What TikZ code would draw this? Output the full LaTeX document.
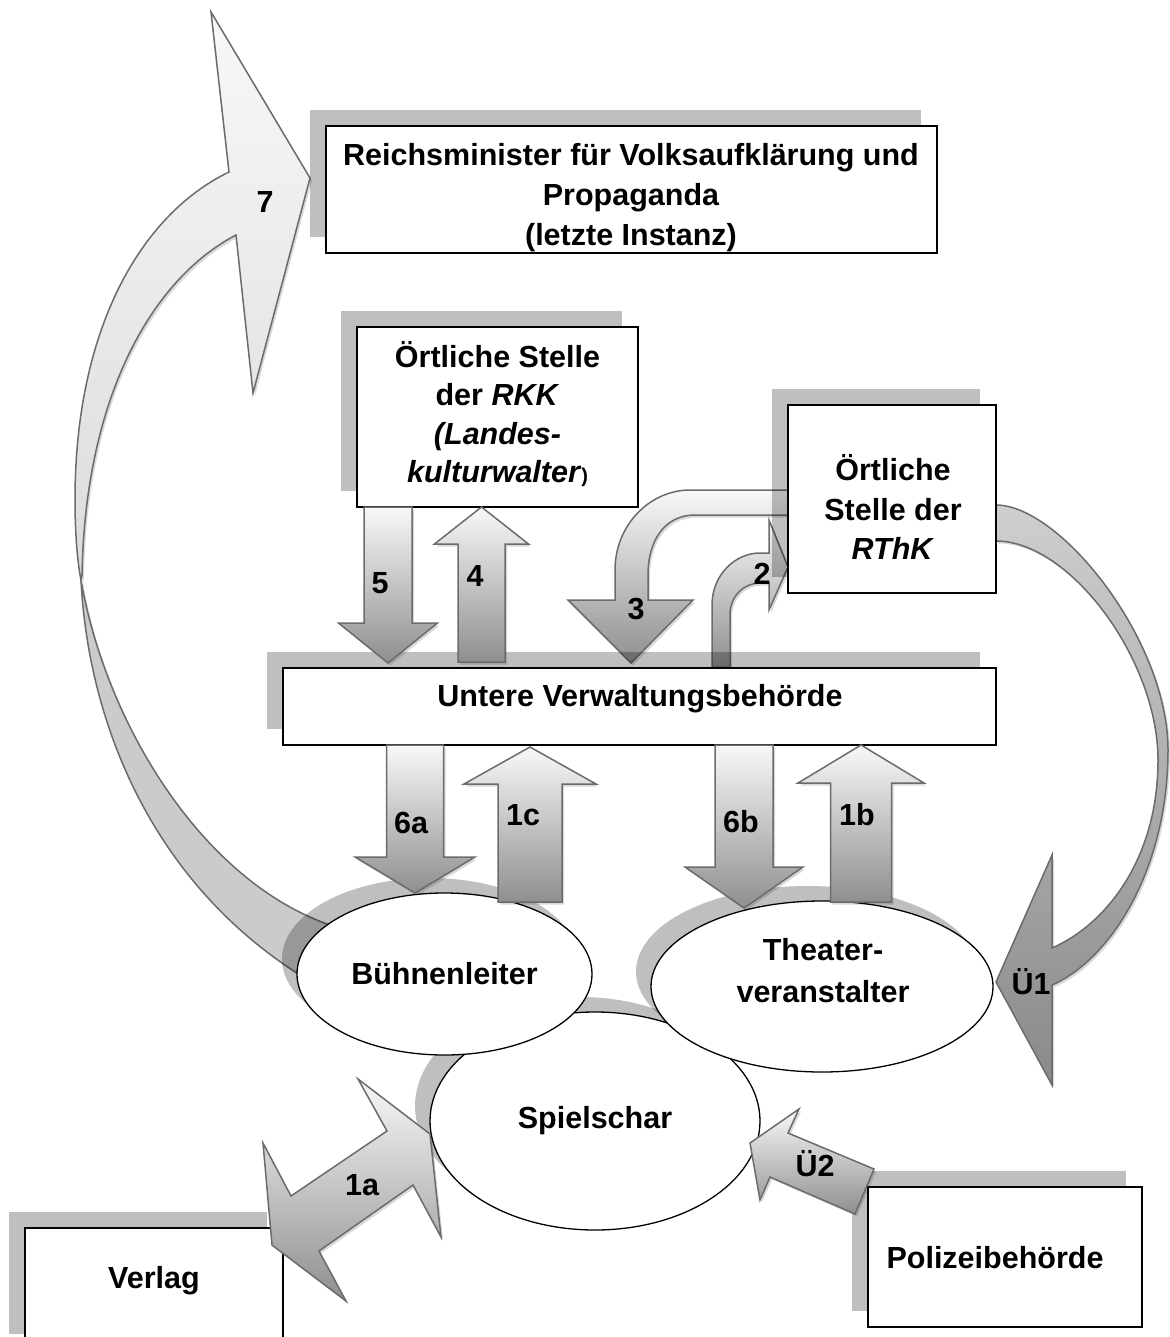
\documentclass[tikz,border=0pt]{standalone}
\usepackage{fontspec}
\setmainfont{Liberation Sans}
\usetikzlibrary{shadows,shapes.geometric}
\definecolor{edgec}{HTML}{6B6B6B}
\definecolor{backc}{HTML}{CBCBCB}
\definecolor{lightc}{HTML}{F8F8F8}
\definecolor{darkc}{HTML}{8F8F8F}
\tikzset{
  lbl/.style={font=\fontsize{30.5}{39.5}\selectfont\bfseries, inner sep=0pt, align=center},
  box/.style={rectangle, draw=black, line width=1.4pt, fill=white, inner sep=0pt,
    general shadow={shadow xshift=-16pt, shadow yshift=16pt, fill=black, opacity=.25}},
  oval/.style={ellipse, draw=black, line width=1.3pt, fill=white, inner sep=0pt,
    general shadow={shadow xshift=-15pt, shadow yshift=15pt, fill=black, opacity=.25}},
  ashadow/.style={general shadow={shadow xshift=2pt, shadow yshift=-2.5pt, fill=black, opacity=.15}},
  aline/.style={draw=edgec, line width=1.5pt, line join=miter},
  blk/.style={aline, top color=lightc, bottom color=darkc, ashadow},
}
\newcommand\blkarrow[6]{\path[blk] ({#1-#5},#2) -- ({#1+#5},#2) -- ({#1+#5},#3) -- ({#1+#6},#3) -- (#1,#4) -- ({#1-#6},#3) -- ({#1-#5},#3) -- cycle;}
\begin{document}
\begin{tikzpicture}[x=1pt,y=-1pt]
\useasboundingbox (0,0) rectangle (1169,1337);

% ---- arrow 7 (curved, left side)
\path[aline, fill=backc, ashadow] (81,580) .. controls (88,720) and (150,880) .. (300,975)
  -- (330,925) .. controls (200,880) and (105,720) .. (81,580) -- cycle;
\path[aline, top color=lightc, bottom color=white!86!black, ashadow]
  (81,580) .. controls (77,560) and (75,530) .. (75,500)
  .. controls (75,330) and (140,215) .. (229,172) -- (211,12) -- (310,178) -- (253,393)
  -- (236,235) .. controls (150,280) and (85,400) .. (82,575) -- cycle;

% ---- arrow Ü1 (curved, right side)
\path[aline, top color=white!81!black, middle color=white!77!black, bottom color=white!54!black, ashadow]
  (996,505) .. controls (1060,505) and (1168,640) .. (1168,750)
  .. controls (1168,870) and (1110,960) .. (1052,985) -- (1052,1085) -- (996,982) -- (1052,855)
  -- (1052,948) .. controls (1105,925) and (1158,860) .. (1158,760)
  .. controls (1158,660) and (1070,541) .. (996,541) -- cycle;

% ---- arrow 3 and arrow 2 (bent)
\path[blk] (788,490) -- (690,490) .. controls (650,490) and (615,525) .. (615,570) -- (615,600)
  -- (568,600) -- (631,663) -- (693,600) -- (648,600) -- (648,575)
  .. controls (648,540) and (665,515) .. (695,515) -- (788,515) -- cycle;
\path[blk] (712,667) -- (712,605) .. controls (712,575) and (735,553) .. (760,553) -- (769,553)
  -- (769,520) -- (788,567) -- (769,610) -- (769,583) -- (760,583)
  .. controls (745,583) and (730,595) .. (730,615) -- (730,667) -- cycle;

% ---- boxes
\node[box, minimum width=611pt, minimum height=127pt] (rm) at (631.5,189.5) {};
\node[box, minimum width=281pt, minimum height=180pt] (rkk) at (497.5,417) {};
\node[box, minimum width=208pt, minimum height=188pt] (rthk) at (892,499) {};
\node[box, minimum width=713pt, minimum height=77pt] (uv) at (639.5,706.5) {};
\node[box, minimum width=274pt, minimum height=140pt] (pol) at (1005,1257) {};
\node[box, minimum width=258pt, minimum height=122pt] (verlag) at (154,1289) {};

% ---- ellipses
\node[oval, lbl, minimum width=330pt, minimum height=218pt] (spiel) at (595,1121) {Spielschar};
\node[oval, lbl, minimum width=295pt, minimum height=162pt] (buehne) at (444.5,974) {Bühnenleiter};
\node[oval, minimum width=342pt, minimum height=171pt] (theater) at (822,986.5) {};

% ---- straight block arrows
\blkarrow{388}{507}{623}{663}{24}{49.5}
\blkarrow{481.5}{662}{544}{507}{23.5}{47}
\blkarrow{415}{745}{857}{893}{28.5}{60}
\blkarrow{530}{902}{784}{747}{32}{66}
\blkarrow{744}{745}{867}{908}{29}{59}
\blkarrow{861}{902}{783}{745}{30.5}{63}

% ---- arrow 1a (double) and Ü2
\path[blk] (430,1134) -- (441,1237) -- (413,1185) -- (319,1251) -- (346,1301) -- (272,1245)
  -- (263,1143) -- (291,1196) -- (387,1131) -- (358,1079) -- cycle;
\path[blk] (750,1143) -- (799,1109) -- (788,1133) -- (874,1169) -- (855,1214) -- (770,1177)
  -- (760,1200) -- cycle;

% ---- box texts
\node[lbl, font=\fontsize{30.5}{40}\selectfont\bfseries] (rmtext) at (631,198)
  {Reichsminister für Volksaufklärung und\\Propaganda\\(letzte Instanz)};
\node[lbl, font=\fontsize{30.5}{38.5}\selectfont\bfseries] (rkktext) at (497.5,414)
  {Örtliche Stelle\\der \textit{RKK}\\\textit{(Landes-}\\\textit{kulturwalter}{\fontsize{20}{20}\selectfont)}};
\node[lbl] (rthktext) at (893,507) {Örtliche\\Stelle der\\\textit{RThK}};
\node[lbl] (uvtext) at (640,699) {Untere Verwaltungsbehörde};
\node[lbl, font=\fontsize{30.5}{42}\selectfont\bfseries] (theatertext) at (823,971) {Theater-\\veranstalter};
\node[lbl] (poltext) at (995,1258) {Polizeibehörde};
\node[lbl] (verlagtext) at (154,1281) {Verlag};

% ---- arrow labels
\node[lbl] (l7) at (265,202) {7};
\node[lbl] (l5) at (380,583) {5};
\node[lbl] (l4) at (475,576) {4};
\node[lbl] (l3) at (636,609) {3};
\node[lbl] (l2) at (762,574) {2};
\node[lbl] (l6a) at (411,823) {6a};
\node[lbl] (l1c) at (523,815) {1c};
\node[lbl] (l6b) at (741,822) {6b};
\node[lbl] (l1b) at (857,815) {1b};
\node[lbl] (l1a) at (362,1185) {1a};
\node[lbl] (lu2) at (815,1164) {Ü2};
\node[lbl] (lu1) at (1031,982) {Ü1};
\end{tikzpicture}
\end{document}
